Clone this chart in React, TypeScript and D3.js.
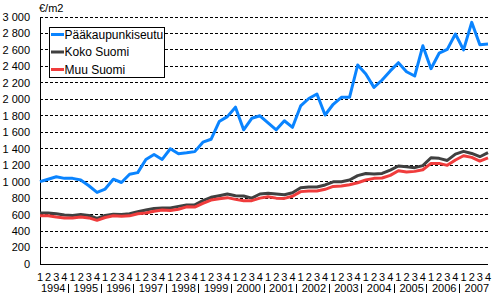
import React from "react";
import * as d3 from "d3";

const years = ["1994","1995","1996","1997","1998","1999","2000","2001","2002","2003","2004","2005","2006","2007"];
const quarters = ["1","2","3","4"];
const yTicks = [0,200,400,600,800,1000,1200,1400,1600,1800,2000,2200,2400,2600,2800,3000];

const paakaupunkiseutu = [1000,1030,1060,1040,1040,1020,950,870,910,1030,990,1090,1110,1270,1330,1270,1400,1340,1350,1365,1480,1515,1730,1790,1905,1630,1770,1800,1715,1630,1740,1660,1920,2010,2065,1810,1940,2024,2024,2417,2307,2145,2235,2345,2445,2335,2283,2650,2372,2560,2607,2793,2600,2935,2664,2672];
const kokoSuomi = [620,620,610,595,590,600,590,555,590,605,600,610,635,655,675,680,680,700,718,720,770,810,830,850,830,826,800,850,858,850,842,866,927,935,935,960,998,1000,1020,1073,1100,1092,1100,1140,1190,1180,1170,1195,1290,1283,1258,1335,1368,1343,1303,1352];
const muuSuomi = [585,585,570,560,560,570,560,530,565,585,580,585,610,620,640,655,650,665,694,692,737,777,793,806,785,769,769,800,818,800,797,822,879,887,887,907,942,947,963,987,1020,1040,1044,1076,1133,1117,1125,1145,1222,1222,1198,1263,1315,1295,1250,1290];

const seriesNames = ["Pääkaupunkiseutu","Koko Suomi","Muu Suomi"];
const seriesData = [paakaupunkiseutu, kokoSuomi, muuSuomi];
const colors = ["#0a84ff","#404040","#f03c3c"];

const W = 492, H = 293;
const left = 40, right = 488, top = 17, bottom = 264;
const font = "'Liberation Sans', Arial, sans-serif";

export default function App() {
  const n = years.length * quarters.length;
  const x = d3.scaleLinear().domain([0, n - 1]).range([left, right]);
  const y = d3.scaleLinear().domain([0, 3000]).range([bottom, top]);
  const line = d3.line<number>().x((_, i) => x(i)).y(d => y(d));

  return (
    <svg width={W} height={H} style={{ position: "absolute", left: 0, top: 0, background: "#fff" }} fontFamily={font}>
      {yTicks.map(t => (
        <g key={t}>
          {t > 0 && (
            <line x1={left} x2={right} y1={y(t)} y2={y(t)} stroke="#000" strokeWidth={1} strokeDasharray="3,2" shapeRendering="crispEdges" />
          )}
          <text x={30} y={y(t) + 3.9} fontSize={11} textAnchor="end" fill="#000">
            {d3.format(",")(t).replace(/,/g, " ")}
          </text>
        </g>
      ))}
      <line x1={left} x2={left} y1={top} y2={bottom} stroke="#000" strokeWidth={1} shapeRendering="crispEdges" />
      <line x1={left} x2={right} y1={bottom} y2={bottom} stroke="#000" strokeWidth={1} shapeRendering="crispEdges" />
      <text x={39} y={12} fontSize={11} fill="#000">€/m2</text>

      {seriesData.map((d, s) => (
        <path key={s} d={line(d) || ""} fill="none" stroke={colors[s]} strokeWidth={3} strokeLinejoin="round" />
      ))}

      {years.map((yr, yi) => (
        <g key={yr}>
          {quarters.map((q, qi) => (
            <text key={q} x={x(yi * 4 + qi)} y={281} fontSize={11} textAnchor="middle" fill="#000">{q}</text>
          ))}
          <text x={(x(yi * 4) + x(yi * 4 + 3)) / 2 + 1} y={292} fontSize={11} textAnchor="middle" fill="#000">{yr}</text>
          {yi > 0 && (
            <line x1={(x(yi * 4 - 1) + x(yi * 4)) / 2} x2={(x(yi * 4 - 1) + x(yi * 4)) / 2} y1={284} y2={293} stroke="#000" strokeWidth={1} shapeRendering="crispEdges" />
          )}
        </g>
      ))}

      <rect x={49.5} y={27.5} width={115} height={50} fill="#fff" stroke="#000" strokeWidth={1} />
      {seriesNames.map((nm, i) => (
        <g key={nm}>
          <line x1={51} x2={64} y1={34.5 + i * 17.5} y2={34.5 + i * 17.5} stroke={colors[i]} strokeWidth={3} />
          <text x={64.5} y={34.5 + i * 17.5 + 4.3} fontSize={12} fill="#000">{nm}</text>
        </g>
      ))}
    </svg>
  );
}
